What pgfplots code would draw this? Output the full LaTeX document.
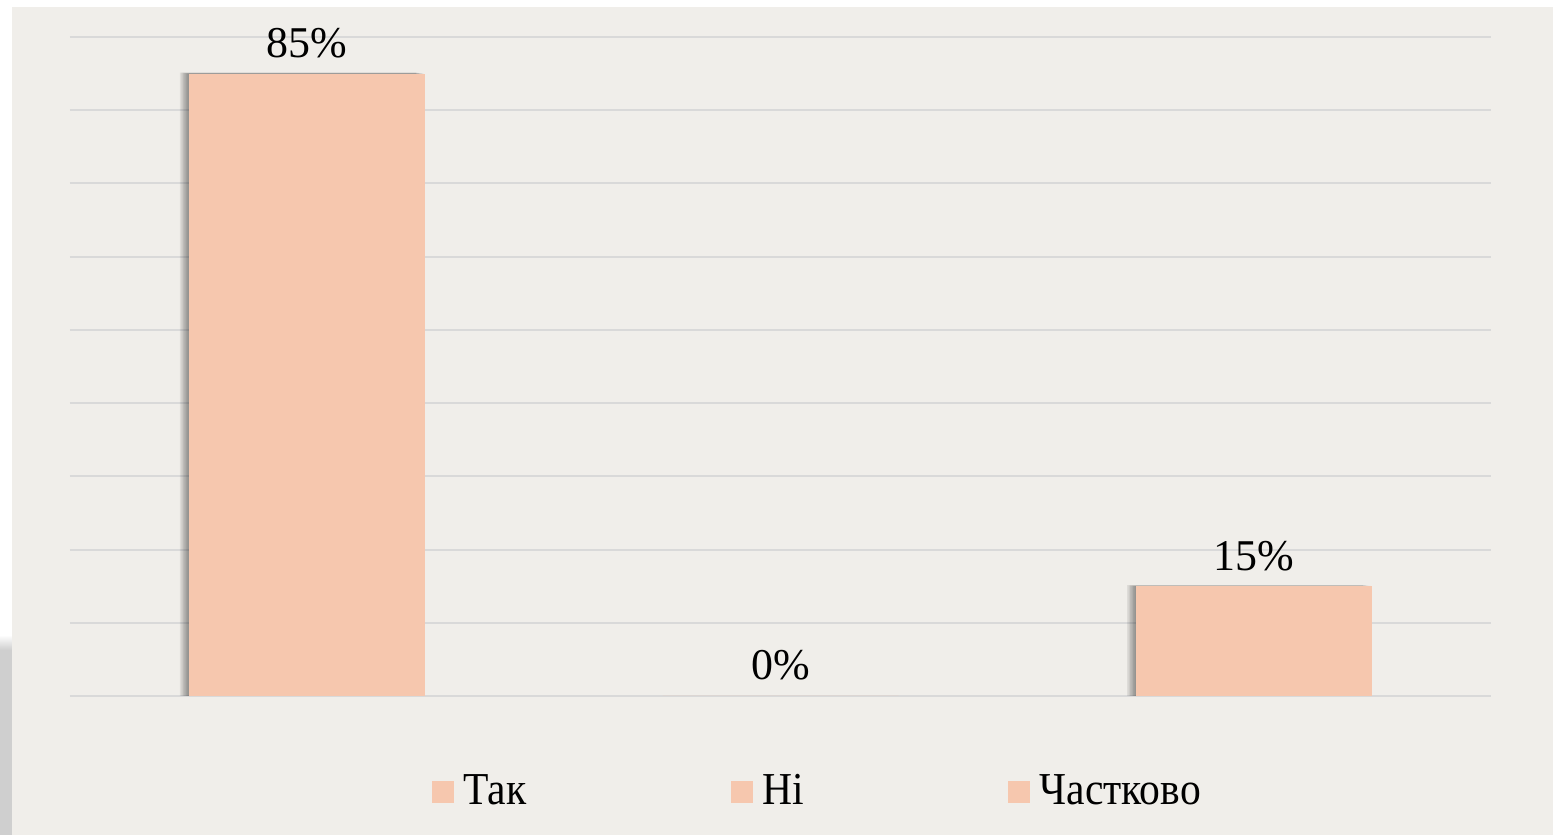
\documentclass[border=0pt]{standalone}
\usepackage{fontspec}
\setmainfont{Liberation Serif}
\newfontfamily\legfont[FakeStretch=0.91]{Liberation Serif}
\usepackage{pgfplots}
\pgfplotsset{compat=1.18}

\definecolor{chartbg}{HTML}{F0EEEA}
\definecolor{barc}{HTML}{F6C7AE}
\definecolor{gridc}{HTML}{D9D9D9}

% soft shadow left of the bars, built from shifted copies of the bars
\pgfplotsset{shadowbar/.style={forget plot, fill=black, draw=none, fill opacity=0.075, nodes near coords={}, bar shift=#1}}

\begin{document}
\begin{tikzpicture}
% page and chart area (1px = 0.1mm)
\fill[white] (0,0) rectangle (155.3mm,83.5mm);
\fill[gray!38] (0,0) rectangle (1.2mm,18.5mm);
\shade[top color=white, bottom color=gray!38] (0,18.5mm) rectangle (1.2mm,20mm);
\fill[chartbg] (1.2mm,0) rectangle (155.3mm,82.8mm);

\begin{axis}[
    at={(7mm,13.9mm)}, anchor=south west,
    scale only axis,
    width=142.1mm, height=65.9mm,
    ybar, bar shift=0pt, bar width=23.6mm,
    xmin=-0.5, xmax=2.5,
    ymin=0, ymax=90,
    ytick={0,10,...,90},
    xtick=\empty,
    yticklabels={},
    major tick length=0pt,
    axis line style={draw=none},
    ymajorgrids=true,
    grid style={gridc, line width=0.2mm},
    /pgf/number format/assume math mode=true,
    point meta=y,
    nodes near coords={\pgfmathprintnumber{\pgfplotspointmeta}\%},
    every node near coord/.append style={anchor=base, yshift=1.6mm, font=\fontsize{12.5}{15}\selectfont, text=black},
    legend columns=3,
    legend image code/.code={\fill[barc] (0mm,-1.1mm) rectangle (2.2mm,1.1mm);},
    legend style={draw=none, fill=none, inner sep=0pt,
        at={(rel axis cs:0.254,-0.1457)}, anchor=west,
        font=\legfont\fontsize{13}{15}\selectfont,
        column sep=0pt,
        nodes={inner xsep=0.95mm, inner ysep=0.5mm},
        /tikz/every even column/.append style={column sep=19.5mm}},
    legend cell align=left,
]
% shadows
\addplot[shadowbar=-0.9mm]  coordinates {(0,85.15) (2,15.15)};
\addplot[shadowbar=-0.75mm] coordinates {(0,85.12) (2,15.12)};
\addplot[shadowbar=-0.6mm]  coordinates {(0,85.1) (2,15.1)};
\addplot[shadowbar=-0.45mm] coordinates {(0,85.08) (2,15.08)};
\addplot[shadowbar=-0.3mm]  coordinates {(0,85.05) (2,15.05)};
\addplot[shadowbar=-0.15mm] coordinates {(0,85.03) (2,15.03)};
% bars
\addplot[fill=barc, draw=none] coordinates {(0,85)};
\addplot[fill=barc, draw=none] coordinates {(1,0)};
\addplot[fill=barc, draw=none] coordinates {(2,15)};
\legend{Так, Ні, Частково}
\end{axis}
\pgfresetboundingbox
\useasboundingbox (0,0) rectangle (155.3mm,83.5mm);
\end{tikzpicture}
\end{document}
